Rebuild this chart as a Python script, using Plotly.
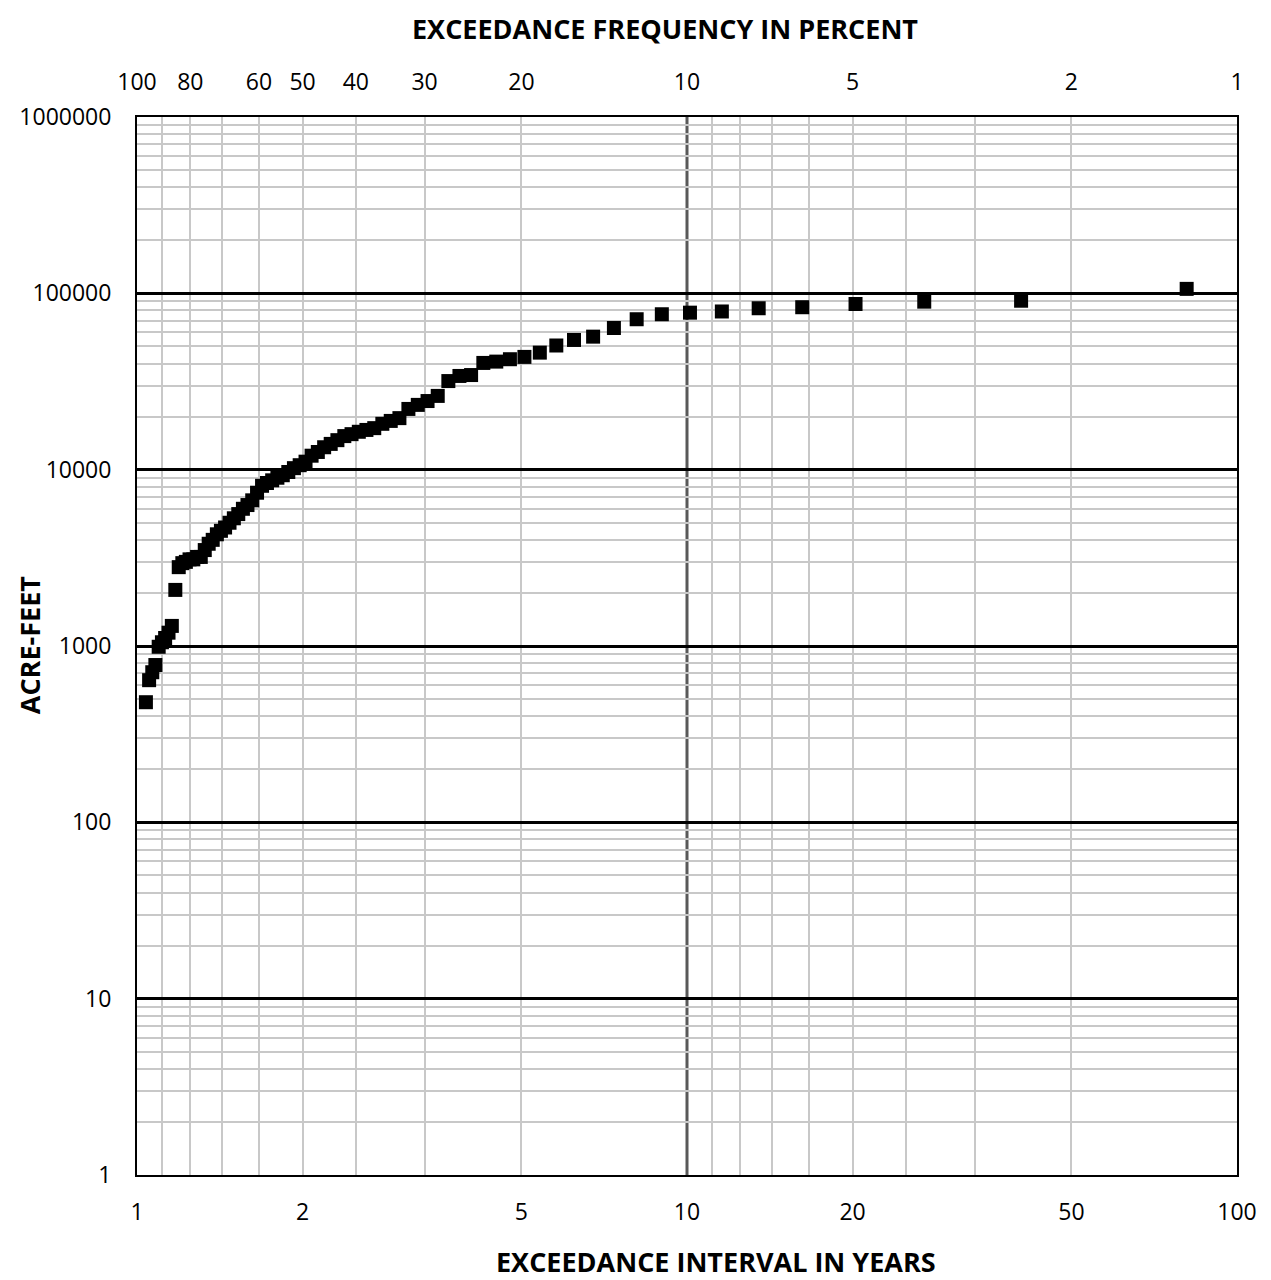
import plotly.graph_objects as go

# exceedance interval (years) for each ranked year, largest first
interval_yr = [81, 40.5, 27, 20.25, 16.2, 13.5, 11.571, 10.125, 9, 8.1,
               7.364, 6.75, 6.231, 5.786, 5.4, 5.063, 4.765, 4.5, 4.263, 4.05,
               3.857, 3.682, 3.522, 3.375, 3.24, 3.115, 3, 2.893, 2.793, 2.7,
               2.613, 2.531, 2.455, 2.382, 2.314, 2.25, 2.189, 2.132, 2.077, 2.025,
               1.976, 1.929, 1.884, 1.841, 1.8, 1.761, 1.723, 1.688, 1.653, 1.62,
               1.588, 1.558, 1.528, 1.5, 1.473, 1.446, 1.421, 1.397, 1.373, 1.35,
               1.328, 1.306, 1.286, 1.266, 1.246, 1.227, 1.209, 1.191, 1.174, 1.157,
               1.141, 1.125, 1.11, 1.095, 1.08, 1.066, 1.052, 1.038]

# volume in acre-feet
acre_feet = [106000, 90800, 89700, 87000, 83400, 82300, 78900, 77700, 76100, 71300,
             63600, 56800, 54400, 50600, 46100, 43600, 42300, 41000, 40300, 34400,
             34000, 31800, 26200, 24500, 23300, 22100, 19600, 18900, 18200, 17200,
             16800, 16400, 15900, 15500, 14700, 14000, 13400, 12600, 12000, 11100,
             10600, 10200, 9700, 9300, 9000, 8700, 8400, 8100, 7400, 6700,
             6300, 6000, 5600, 5300, 5000, 4700, 4500, 4300, 4000, 3800,
             3500, 3200, 3200, 3100, 3100, 3000, 2950, 2800, 2080, 1300,
             1190, 1110, 1050, 990, 780, 710, 640, 480]

year_ticks = [1, 2, 5, 10, 20, 50, 100]
pct_ticks = [100, 80, 60, 50, 40, 30, 20, 10, 5, 2, 1]
pct_grid = [90, 80, 70, 60, 50, 40, 30, 20, 9, 8, 7, 6, 5, 4, 3, 2]
af_ticks = [1, 10, 100, 1000, 10000, 100000, 1000000]
af_minor = [k * d for d in af_ticks[:-1] for k in range(2, 10)]

FONT = "Open Sans"
lbl = dict(family=FONT, size=23, color="black")
ttl = dict(family=FONT, size=27, color="black")

fig = go.Figure()
fig.add_trace(go.Scatter(
    x=interval_yr, y=acre_feet, mode="markers",
    marker=dict(symbol="square", size=14, color="black"),
    showlegend=False))
# same points on the top (percent) axis, invisible, so that axis gets drawn
fig.add_trace(go.Scatter(
    x=interval_yr, y=acre_feet, xaxis="x2", mode="markers",
    marker=dict(opacity=0), hoverinfo="skip", showlegend=False))

fig.add_vline(x=10, line=dict(color="#595959", width=3), layer="below")

fig.update_layout(
    width=1271, height=1280,
    margin=dict(l=129, r=42, t=109, b=113),
    paper_bgcolor="white", plot_bgcolor="white",
    xaxis=dict(
        type="log", range=[0, 2],
        tickvals=year_ticks, ticktext=[str(v) for v in year_ticks],
        tickfont=lbl, ticks="", ticklabelstandoff=15,
        showgrid=False, zeroline=False,
        showline=True, linecolor="black", linewidth=2, mirror=True,
        minor=dict(tickvals=[100 / p for p in pct_grid], showgrid=True,
                   gridcolor="#c8c8c8", gridwidth=1.5, ticks=""),
    ),
    xaxis2=dict(
        type="log", range=[0, 2], overlaying="x", side="top", anchor="y",
        tickvals=[100 / p for p in pct_ticks], ticktext=[str(p) for p in pct_ticks],
        tickfont=lbl, ticks="", ticklabelstandoff=21,
        showgrid=False, zeroline=False, showline=False,
    ),
    yaxis=dict(
        type="log", range=[0, 6],
        tickvals=af_ticks, ticktext=[str(v) for v in af_ticks],
        tickfont=lbl, ticks="", ticklabelstandoff=19,
        showgrid=True, gridcolor="black", gridwidth=3, zeroline=False,
        showline=True, linecolor="black", linewidth=2, mirror=True,
        minor=dict(tickvals=af_minor, showgrid=True,
                   gridcolor="#c8c8c8", gridwidth=1.5, ticks=""),
    ),
    annotations=[
        dict(text="<b>EXCEEDANCE FREQUENCY IN PERCENT</b>", xref="paper", yref="paper",
             x=0.48, y=1.084, xanchor="center", yanchor="middle",
             showarrow=False, font=ttl),
        dict(text="<b>EXCEEDANCE INTERVAL IN YEARS</b>", xref="paper", yref="paper",
             x=0.526, y=-0.0822, xanchor="center", yanchor="middle",
             showarrow=False, font=ttl),
        dict(text="<b>ACRE-FEET</b>", xref="paper", yref="paper",
             x=-0.097, y=0.501, xanchor="center", yanchor="middle",
             showarrow=False, font=ttl, textangle=-90),
    ],
)

fig.write_html("out.html")
